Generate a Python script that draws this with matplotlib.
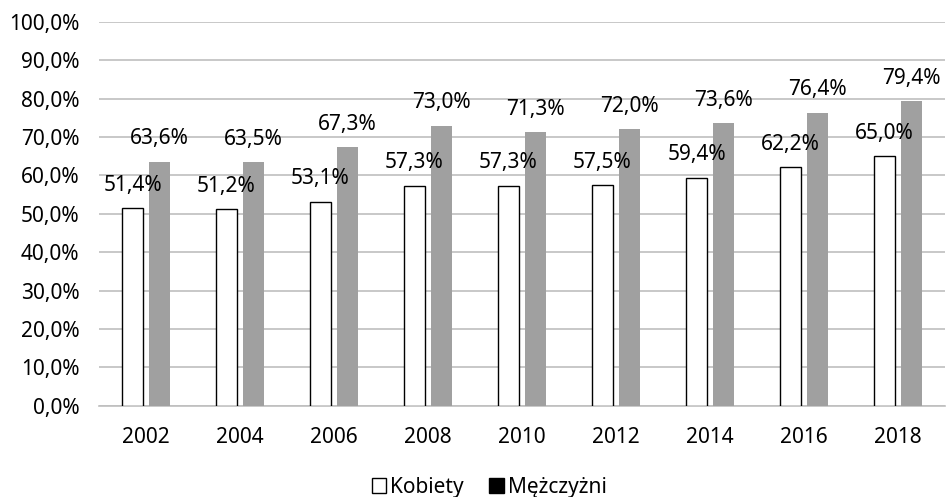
import numpy as np
import matplotlib.pyplot as plt
from matplotlib.patches import Patch

plt.rcParams['font.family'] = ['Noto Sans', 'DejaVu Sans']

years = ['2002', '2004', '2006', '2008', '2010', '2012', '2014', '2016', '2018']
kobiety = [51.4, 51.2, 53.1, 57.3, 57.3, 57.5, 59.4, 62.2, 65.0]
mezczyzni = [63.6, 63.5, 67.3, 73.0, 71.3, 72.0, 73.6, 76.4, 79.4]

fig = plt.figure(figsize=(9.46, 4.97), dpi=100)
ax = fig.add_axes([0.1047, 0.1837, 0.8943, 0.772])

x = np.arange(len(years))
w = 0.223
off = 0.144

b1 = ax.bar(x - off, kobiety, w, color='white', edgecolor='black', linewidth=1.0, zorder=3)
b2 = ax.bar(x + off, mezczyzni, w, color='#a0a0a0', linewidth=0, zorder=3)

def pl(v):
    return f'{v:.1f}%'.replace('.', ',')

# value labels above each bar
for bars, vals in [(b1, kobiety), (b2, mezczyzni)]:
    for bar, v in zip(bars, vals):
        ax.annotate(pl(v), (bar.get_x() + bar.get_width() / 2, v),
                    xytext=(0, 9), textcoords='offset points',
                    ha='center', va='bottom', fontsize=15, zorder=4)

ax.set_xlim(-0.5, len(years) - 0.5)
ax.set_ylim(0, 100)
ax.set_yticks(np.arange(0, 101, 10))
ax.set_yticklabels([pl(v) for v in np.arange(0, 101, 10)])
ax.set_xticks(x)
ax.set_xticklabels(years)
ax.tick_params(axis='both', length=0, labelsize=15)
ax.tick_params(axis='x', pad=15)
ax.tick_params(axis='y', pad=14)

ax.yaxis.grid(True, color='#bfbfbf', linewidth=1.2, zorder=0)
for s in ['top', 'right', 'left']:
    ax.spines[s].set_visible(False)
ax.spines['bottom'].set_color('#bfbfbf')
ax.spines['bottom'].set_linewidth(1.2)

handles = [Patch(facecolor='white', edgecolor='black', linewidth=1.0, label='Kobiety'),
           Patch(facecolor='black', edgecolor='black', label='Mężczyżni')]
fig.legend(handles=handles, loc='center', bbox_to_anchor=(0.517, 0.02),
           ncol=2, frameon=False, fontsize=15, handlelength=0.7, handleheight=0.7,
           handletextpad=0.2, columnspacing=1.2)

fig.savefig('out.png', dpi=100)
